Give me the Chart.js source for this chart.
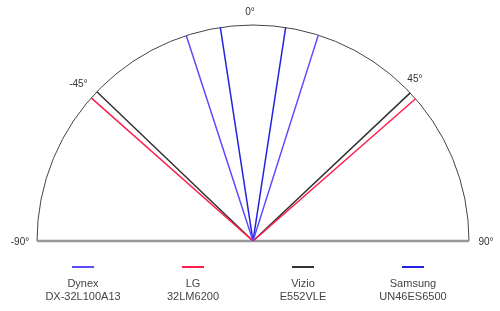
<!DOCTYPE html>
<html>
<head>
<meta charset="utf-8">
<script src="https://cdn.jsdelivr.net/npm/chart.js@4"></script>
<style>
  html, body { margin: 0; padding: 0; background: #fff; }
  canvas { display: block; }
</style>
</head>
<body>
<canvas id="c" width="500" height="311"></canvas>
<script>
// viewing angle per TV, degrees off axis (left side is negative)
const brands = ['Dynex', 'LG', 'Vizio', 'Samsung'];
const models = ['DX-32L100A13', '32LM6200', 'E552VLE', 'UN46ES6500'];
const leftAngles = [-18, -48.5, -46.3, -8.7];
const rightAngles = [17.6, 48.8, 46.7, 8.7];
const colors = ['#5b4cff', '#ff1f4f', '#333333', '#2323dd'];

const axisLabels = ['-90°', '-45°', '0°', '45°', '90°'];
const axisAngles = [-90, -45, 0, 45, 90];

const rad = d => d * Math.PI / 180;
const tip = d => ({ x: Math.sin(rad(d)), y: Math.cos(rad(d)) });

const datasets = brands.map((b, i) => ({
  label: b,
  data: [tip(leftAngles[i]), { x: 0, y: 0 }, tip(rightAngles[i])],
  borderColor: colors[i],
  borderWidth: 1.5,
  showLine: true,
  pointRadius: 0,
  fill: false
}));

// semicircle frame, base line, angle labels and legend
const frame = {
  id: 'frame',
  beforeDatasetsDraw(chart) {
    const { ctx, scales: { x, y } } = chart;
    const cx = x.getPixelForValue(0), cy = y.getPixelForValue(0);
    const r = cx - x.getPixelForValue(-1);
    ctx.save();
    ctx.strokeStyle = '#444';
    ctx.lineWidth = 1;
    ctx.beginPath();
    ctx.arc(cx, cy, r, Math.PI, 2 * Math.PI);
    ctx.stroke();
    ctx.strokeStyle = '#999';
    ctx.lineWidth = 2.5;
    ctx.beginPath();
    ctx.moveTo(cx - r, cy);
    ctx.lineTo(cx + r, cy);
    ctx.stroke();

    ctx.fillStyle = '#333';
    ctx.font = '10px "Liberation Sans", Arial, sans-serif';
    ctx.textAlign = 'center';
    ctx.textBaseline = 'middle';
    axisAngles.forEach((a, i) => {
      let px, py;
      if (Math.abs(a) === 90) {
        px = cx + Math.sign(a) * (r + 17);
        py = cy + 1;
      } else {
        // the -45 label sits a bit further out than the others
        const lr = a < 0 ? r + 19 : r + 13;
        const la = a < 0 ? a - 3 : a;
        px = cx + Math.sin(rad(la)) * lr - (a === 0 ? 3 : 0);
        py = cy - Math.cos(rad(la)) * lr;
      }
      ctx.fillText(axisLabels[i], px, py);
    });
    ctx.restore();
  },
  afterDraw(chart) {
    const ctx = chart.ctx;
    ctx.save();
    ctx.font = '11px "Liberation Sans", Arial, sans-serif';
    ctx.textAlign = 'center';
    ctx.textBaseline = 'middle';
    brands.forEach((b, i) => {
      const mx = 28 + 110 * (i + 0.5);
      ctx.strokeStyle = colors[i];
      ctx.lineWidth = 2;
      ctx.beginPath();
      ctx.moveTo(mx - 11, 267);
      ctx.lineTo(mx + 11, 267);
      ctx.stroke();
      ctx.fillStyle = '#444';
      ctx.fillText(b, mx, 284);
      ctx.fillText(models[i], mx, 297);
    });
    ctx.restore();
  }
};

new Chart(document.getElementById('c'), {
  type: 'scatter',
  data: { datasets: datasets },
  options: {
    responsive: false,
    animation: false,
    layout: { padding: { left: 37, right: 31, top: 25, bottom: 70 } },
    scales: {
      x: { type: 'linear', min: -1, max: 1, display: false },
      y: { type: 'linear', min: 0, max: 1, display: false }
    },
    plugins: { legend: { display: false }, tooltip: { enabled: false } }
  },
  plugins: [frame]
});
</script>
</body>
</html>
